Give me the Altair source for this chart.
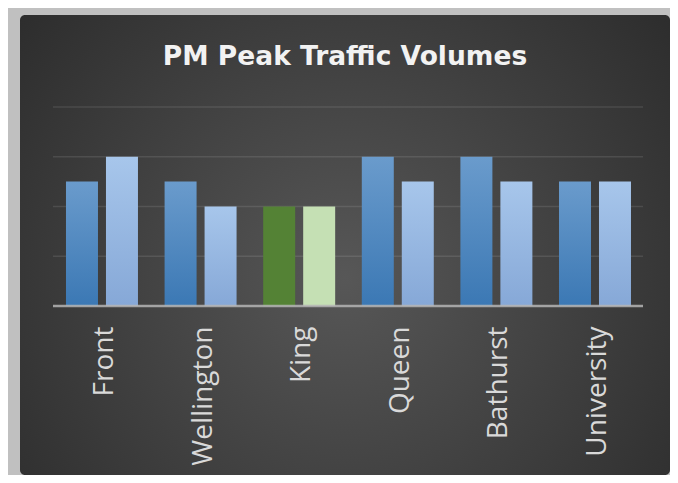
import altair as alt
import pandas as pd

categories = ["Front", "Wellington", "King", "Queen", "Bathurst", "University"]
series_a = [2.5, 2.5, 2, 3, 3, 2.5]
series_b = [3, 2, 2, 2.5, 2.5, 2.5]
grid_values = [1, 2, 3, 4]
title_text = "PM Peak Traffic Volumes"

rows = []
for c, a, b in zip(categories, series_a, series_b):
    rows.append({"cat": c, "s": "A", "v": a})
    rows.append({"cat": c, "s": "B", "v": b})
df = pd.DataFrame(rows)
grid_df = pd.DataFrame({"v": grid_values})
base_df = pd.DataFrame({"v": [0]})
bg_df = pd.DataFrame({"v": [0]})

W, H = 650, 460
y_scale = alt.Scale(domain=[-3.397, 5.849], nice=False, zero=False)
x_scale = alt.Scale(domain=categories, paddingInner=0.27, paddingOuter=0.431, align=0.541)
off_scale = alt.Scale(domain=["A", "B"], paddingInner=0.2, paddingOuter=0)
x_axis = alt.Axis(title=None, orient="bottom", offset=-169, domain=False, ticks=False,
                  labelAngle=-90, labelAlign="right", labelBaseline="middle",
                  labelPadding=20, labelOffset=3, labelFont="Open Sans", labelFontSize=28,
                  labelColor="#d9d9d9", grid=False, zindex=2)


def lin(c0, c1):
    return alt.Gradient(gradient="linear", x1=0, y1=0, x2=0, y2=1,
                        stops=[alt.GradientStop(color=c0, offset=0),
                               alt.GradientStop(color=c1, offset=1)])


bg = alt.Chart(bg_df).mark_rect(
    fill=alt.Gradient(gradient="radial", x1=0.5, y1=0.55, r1=0, x2=0.5, y2=0.55, r2=0.75,
                      stops=[alt.GradientStop(color="#575757", offset=0),
                             alt.GradientStop(color="#262626", offset=1)]),
    cornerRadius=5,
).encode(opacity=alt.value(1))

grid = alt.Chart(grid_df).mark_rule(color="#ffffff", opacity=0.1, strokeWidth=1.5).encode(
    y=alt.Y("v:Q", scale=y_scale, axis=None),
    x=alt.value(33), x2=alt.value(623),
)


def bars(flt, fill):
    return alt.Chart(df).transform_filter(flt).mark_bar(fill=fill).encode(
        x=alt.X("cat:N", scale=x_scale, axis=x_axis, sort=categories),
        xOffset=alt.XOffset("s:N", scale=off_scale),
        y=alt.Y("v:Q", scale=y_scale, axis=None),
    )


bars_a = bars((alt.datum.s == "A") & (alt.datum.cat != "King"), lin("#6a9bcc", "#3b78b4"))
bars_b = bars((alt.datum.s == "B") & (alt.datum.cat != "King"), lin("#a7c6eb", "#86a8d7"))
king_a = bars((alt.datum.s == "A") & (alt.datum.cat == "King"), "#548235")
king_b = bars((alt.datum.s == "B") & (alt.datum.cat == "King"), "#c5e0b4")

baseline = alt.Chart(base_df).mark_rule(color="#b5b5b5", opacity=0.85, strokeWidth=2.5).encode(
    y=alt.Y("v:Q", scale=y_scale, axis=None),
    x=alt.value(33), x2=alt.value(623),
)

chart = alt.layer(bg, grid, bars_a, bars_b, king_a, king_b, baseline).properties(
    width=W, height=H,
    title=alt.TitleParams(title_text, font="DejaVu Sans", fontSize=26.5, fontWeight="bold",
                          color="#f2f2f2", anchor="middle", offset=0, dy=68,
                          baseline="middle"),
    autosize=alt.AutoSizeParams(type="none"),
    padding={"left": 12, "top": 7, "right": 0, "bottom": 0},
    background="#c0c0c0",
).configure_view(stroke=None)

chart.save("out.html", embed_options={"renderer": "svg", "actions": False})
